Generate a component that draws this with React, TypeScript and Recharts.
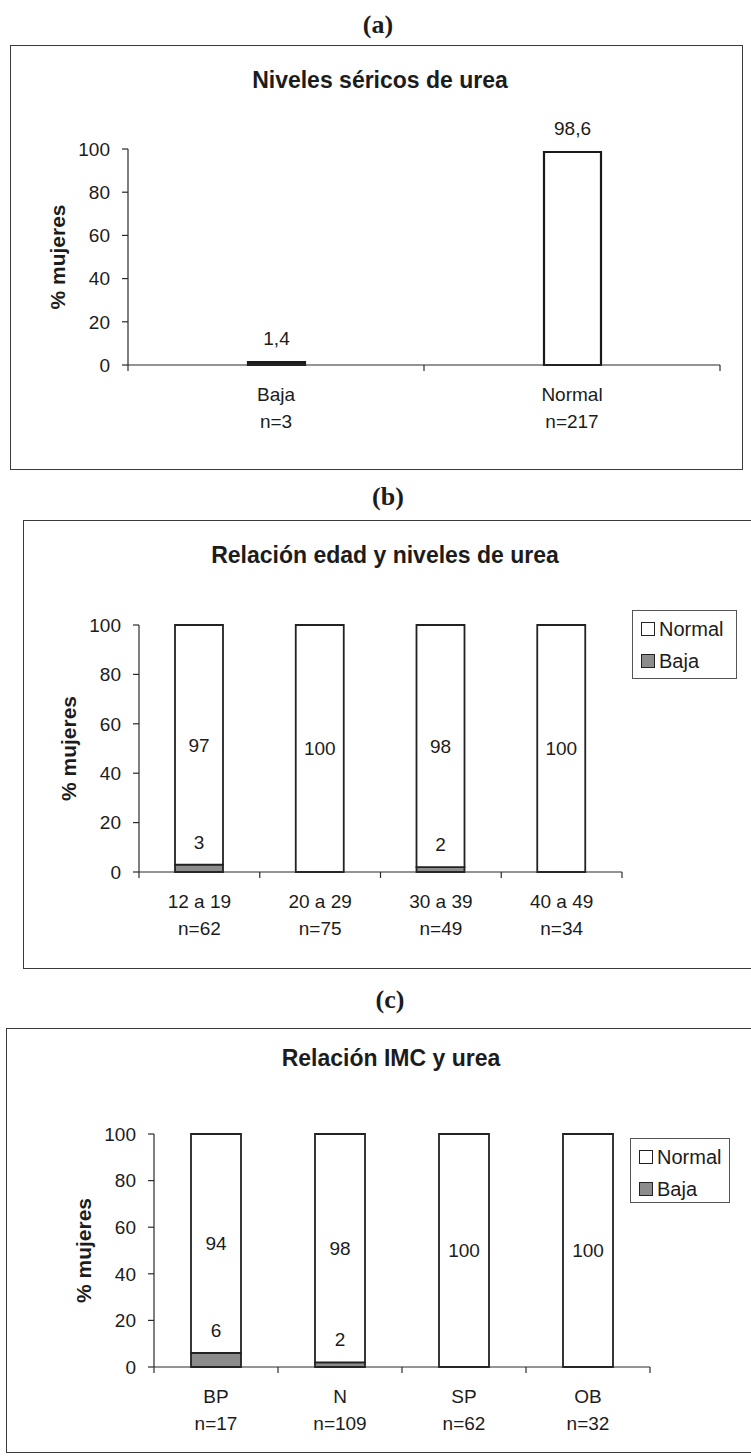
import React from 'react';
import { BarChart, Bar, XAxis, YAxis, LabelList, Cell } from 'recharts';

const FONT = '"Liberation Sans", Arial, sans-serif';
const SERIF = '"Liberation Serif", "Times New Roman", serif';
const TEXT = '#1c1c1c';
const LINE = '#2a2a2a';
const GRAY = '#8c8c8c';

// Panel (a)
const ureaCategories = ['Baja', 'Normal'];
const ureaCounts = ['n=3', 'n=217'];
const ureaPercent = [1.4, 98.6];
const ureaFills = ['#222222', '#ffffff'];

// Panel (b)
const edadCategories = ['12 a 19', '20 a 29', '30 a 39', '40 a 49'];
const edadCounts = ['n=62', 'n=75', 'n=49', 'n=34'];
const edadBaja = [3, 0, 2, 0];
const edadNormal = [97, 100, 98, 100];

// Panel (c)
const imcCategories = ['BP', 'N', 'SP', 'OB'];
const imcCounts = ['n=17', 'n=109', 'n=62', 'n=32'];
const imcBaja = [6, 2, 0, 0];
const imcNormal = [94, 98, 100, 100];

const yTicks = [0, 20, 40, 60, 80, 100];
const legendNames = ['Normal', 'Baja'];
const legendFills = ['#ffffff', GRAY];

const ureaData = ureaCategories.map((c, i) => ({ cat: c, value: ureaPercent[i] }));
const edadData = edadCategories.map((c, i) => ({ cat: c, baja: edadBaja[i], normal: edadNormal[i] }));
const imcData = imcCategories.map((c, i) => ({ cat: c, baja: imcBaja[i], normal: imcNormal[i] }));

function makeTick(counts: string[]) {
  return (props: any) => {
    const { x, y, payload } = props;
    const i = payload?.index ?? props.index ?? 0;
    const off = payload?.offset ?? 0;
    const axisY = y - 8;
    const last = i === counts.length - 1;
    return (
      <g>
        <line x1={x - off} x2={x - off} y1={axisY} y2={axisY + 6} stroke={LINE} strokeWidth={1.2} />
        {last && <line x1={x + off} x2={x + off} y1={axisY} y2={axisY + 6} stroke={LINE} strokeWidth={1.2} />}
        <text x={x} y={y} textAnchor="middle" fontFamily={FONT} fontSize={19} fill={TEXT}>
          <tspan x={x} dy={28}>{payload.value}</tspan>
          <tspan x={x} dy={27}>{counts[i]}</tspan>
        </text>
      </g>
    );
  };
}

const yLabel = (props: any) => {
  const vb = props.viewBox || { x: 0, y: 0, width: 0, height: 0 };
  const x = vb.x - 11;
  const y = vb.y + vb.height / 2;
  return (
    <text x={x} y={y} transform={`rotate(-90 ${x} ${y})`} textAnchor="middle" dominantBaseline="central"
      fontFamily={FONT} fontWeight="bold" fontSize={21} fill={TEXT}>% mujeres</text>
  );
};

const yAxisEl = (
  <YAxis
    domain={[0, 100]}
    ticks={yTicks}
    interval={0}
    width={60}
    tickSize={6}
    tickMargin={12}
    axisLine={{ stroke: LINE, strokeWidth: 1.2 }}
    tickLine={{ stroke: LINE, strokeWidth: 1.2 }}
    tick={{ fontFamily: FONT, fontSize: 19, fill: TEXT }}
    label={{ content: yLabel }}
  />
);

function Caption({ text, cx, cy }: { text: string; cx: number; cy: number }) {
  return (
    <div style={{ position: 'absolute', left: cx - 40, top: cy - 15, width: 80, height: 30, lineHeight: '30px', textAlign: 'center', fontFamily: SERIF, fontWeight: 'bold', fontSize: 26, color: TEXT }}>{text}</div>
  );
}

function Title({ text, cx, cy }: { text: string; cx: number; cy: number }) {
  return (
    <div style={{ position: 'absolute', left: cx - 300, top: cy - 14, width: 600, height: 28, lineHeight: '28px', textAlign: 'center', fontFamily: FONT, fontWeight: 'bold', fontSize: 23, color: TEXT }}>{text}</div>
  );
}

function Frame({ left, top, width, height }: { left: number; top: number; width: number; height: number }) {
  return <div style={{ position: 'absolute', left, top, width, height, border: '1.5px solid #3a3a3a', boxSizing: 'border-box' }} />;
}

function LegendBox({ left, top, width, height }: { left: number; top: number; width: number; height: number }) {
  return (
    <div style={{ position: 'absolute', left, top, width, height, border: '1.2px solid #555', boxSizing: 'border-box', background: '#fff', fontFamily: FONT, fontSize: 20, color: TEXT, padding: '2px 0 0 8px' }}>
      {legendNames.map((name, i) => (
        <div key={name} style={{ display: 'flex', alignItems: 'center', height: 32 }}>
          <span style={{ display: 'inline-block', width: 12, height: 12, border: '1.8px solid #222', background: legendFills[i], marginRight: 4 }} />
          <span>{name}</span>
        </div>
      ))}
    </div>
  );
}

const labelStyle = { fontFamily: FONT, fontSize: 19, fill: TEXT };

function StackedChart({ data, counts, left, top, width, height, margin, barSize }: any) {
  return (
    <div style={{ position: 'absolute', left, top }}>
      <BarChart width={width} height={height} data={data} margin={margin}>
        <XAxis dataKey="cat" interval={0} tickSize={6} tickMargin={2} tickLine={false}
          axisLine={{ stroke: LINE, strokeWidth: 1.2 }} tick={makeTick(counts)} height={30} />
        {yAxisEl}
        <Bar dataKey="baja" stackId="s" fill={GRAY} stroke="#222" strokeWidth={1.8} barSize={barSize} isAnimationActive={false}>
          <LabelList dataKey="baja" position="top" offset={16} formatter={(v: any) => (v > 0 ? v : null)} {...labelStyle} />
        </Bar>
        <Bar dataKey="normal" stackId="s" fill="#ffffff" stroke="#222" strokeWidth={1.8} barSize={barSize} isAnimationActive={false}>
          <LabelList dataKey="normal" position="center" {...labelStyle} />
        </Bar>
      </BarChart>
    </div>
  );
}

export default function App() {
  return (
    <div style={{ position: 'absolute', left: 0, top: 0, width: 751, height: 1456, overflow: 'hidden', background: '#fff' }}>
      {/* (a) */}
      <Caption text="(a)" cx={378} cy={25} />
      <Frame left={10} top={45} width={733} height={425} />
      <Title text="Niveles séricos de urea" cx={380} cy={80} />
      <div style={{ position: 'absolute', left: 10, top: 45 }}>
        <BarChart width={733} height={425} data={ureaData} margin={{ top: 104, bottom: 75, left: 58, right: 23 }}>
          <XAxis dataKey="cat" interval={0} tickSize={6} tickMargin={2} tickLine={false}
            axisLine={{ stroke: LINE, strokeWidth: 1.2 }} tick={makeTick(ureaCounts)} height={30} />
          {yAxisEl}
          <Bar dataKey="value" fill="#ffffff" stroke="#1a1a1a" strokeWidth={2.2} barSize={57} isAnimationActive={false}>
            {ureaData.map((d, i) => <Cell key={d.cat} fill={ureaFills[i]} />)}
            <LabelList dataKey="value" position="top" offset={17}
              formatter={(v: any) => String(v).replace('.', ',')} {...labelStyle} />
          </Bar>
        </BarChart>
      </div>

      {/* (b) */}
      <Caption text="(b)" cx={388} cy={497} />
      <Frame left={23} top={520} width={740} height={449} />
      <Title text="Relación edad y niveles de urea" cx={385} cy={555} />
      <StackedChart data={edadData} counts={edadCounts} left={23} top={520} width={740} height={449}
        margin={{ top: 105, bottom: 67, left: 56, right: 141 }} barSize={48} />
      <LegendBox left={632} top={610} width={105} height={69} />

      {/* (c) */}
      <Caption text="(c)" cx={390} cy={1000} />
      <Frame left={6} top={1028} width={750} height={425} />
      <Title text="Relación IMC y urea" cx={391} cy={1058} />
      <StackedChart data={imcData} counts={imcCounts} left={6} top={1028} width={750} height={425}
        margin={{ top: 106, bottom: 56, left: 88, right: 106 }} barSize={50} />
      <LegendBox left={630} top={1138} width={100} height={65} />
    </div>
  );
}
